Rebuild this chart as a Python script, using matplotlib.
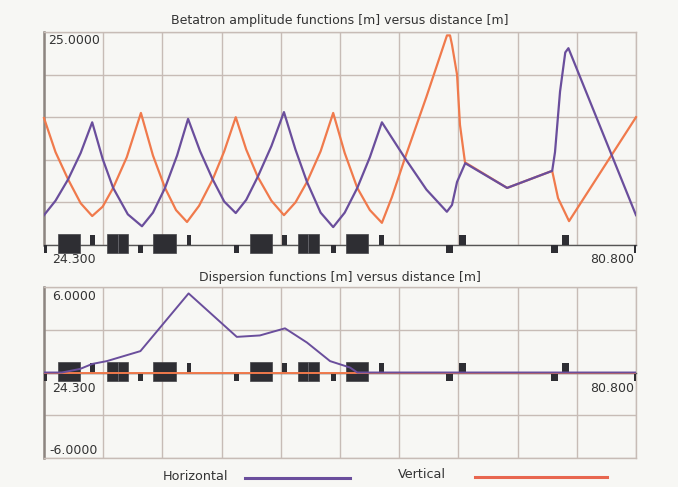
import numpy as np
import matplotlib
matplotlib.use("Agg")
import matplotlib.pyplot as plt
from matplotlib.patches import Rectangle

# lattice range and grid
s_min, s_max = 24.3, 80.8
n_xdiv = 10

# betatron functions
s_bx = [24.3, 25.4, 26.6, 27.8, 28.9, 29.9, 30.9, 32.3, 33.65, 34.7, 35.85, 37.0, 38.05,
        39.2, 40.4, 41.5, 42.6, 43.6, 44.7, 46.0, 47.2, 48.3, 49.4, 50.7, 51.9,
        53.0, 54.2, 55.4, 56.55, 58.75, 60.8, 62.75, 63.24, 63.72, 64.5, 68.5, 72.8,
        73.07, 73.55, 74.05, 74.35, 80.8]
beta_x = [3.5, 5.2, 7.7, 10.8, 14.4, 10.1, 6.7, 3.6, 2.2, 3.8, 6.7, 10.5, 14.8,
          11.0, 7.7, 5.1, 3.75, 5.3, 8.0, 11.6, 15.6, 11.2, 7.4, 3.8, 2.1,
          3.8, 6.7, 10.3, 14.4, 10.2, 6.5, 3.9, 4.7, 7.4, 9.6, 6.7, 8.7,
          10.9, 18.0, 22.6, 23.1, 3.5]
s_by = [24.3, 25.4, 26.6, 27.8, 28.9, 29.9, 30.9, 32.2, 33.55, 34.7, 35.85, 36.9, 37.95,
        39.1, 40.4, 41.5, 42.6, 43.6, 44.7, 46.0, 47.2, 48.3, 49.4, 50.7, 51.9,
        53.0, 54.2, 55.4, 56.55, 57.5, 58.75, 60.8, 62.76, 63.05, 63.24, 63.72, 64.0,
        64.48, 68.5, 72.8, 73.36, 74.41, 80.8]
beta_y = [14.9, 10.9, 7.7, 4.9, 3.4, 4.5, 6.7, 10.3, 15.5, 10.5, 6.7, 4.1, 2.7,
          4.6, 7.7, 11.0, 15.0, 11.2, 8.0, 5.2, 3.5, 5.0, 7.4, 11.0, 15.5,
          10.8, 6.7, 4.1, 2.6, 5.6, 10.2, 17.4, 24.6, 24.6, 23.5, 20.0, 14.1,
          9.7, 6.7, 8.7, 5.5, 2.8, 15.0]

# dispersion functions
s_dx = [24.3, 26.0, 27.74, 28.9, 30.3, 33.5, 38.1, 42.7, 44.9, 47.3, 49.4, 51.6, 53.5, 54.2, 80.8]
disp_x = [0, 0, 0.25, 0.6, 0.8, 1.5, 5.55, 2.5, 2.6, 3.1, 2.1, 0.8, 0.35, 0, 0]
s_dy = [24.3, 80.8]
disp_y = [0, 0]

# magnets: dipoles (big blocks), focusing quads (above), defocusing quads (below)
dip_start = [25.64, 30.31, 34.70, 43.96, 48.54, 53.12]
dip_end = [27.74, 32.32, 36.90, 46.06, 50.55, 55.22]
dip_split = [31.36, 49.50]
qf_start = [28.69, 37.95, 47.01, 56.27, 63.91, 73.74]
qf_end = [29.17, 38.33, 47.49, 56.75, 64.58, 74.41]
qd_start = [33.27, 42.43, 51.69, 62.67, 72.69]
qd_end = [33.75, 42.91, 52.17, 63.34, 73.36]

c_h = "#6a4e9c"
c_v = "#f07a4c"
c_leg_v = "#e8664f"
c_grid = "#c7bcb6"
c_axis = "#8d8580"
c_mag = "#2e2e33"
c_text = "#333333"
bg = "#f7f7f4"

plt.rcParams['font.family'] = ['DejaVu Sans']

fig = plt.figure(figsize=(6.78, 4.87), dpi=100, facecolor=bg)
ax1 = fig.add_axes([44/678, 1-245/487, 592/678, 213/487], facecolor=bg)
ax2 = fig.add_axes([44/678, 1-458/487, 592/678, 171/487], facecolor=bg)


def setup(ax, ylo, yhi, ystep):
    ax.set_xlim(s_min, s_max)
    ax.set_ylim(ylo, yhi)
    ax.set_xticks(np.linspace(s_min, s_max, n_xdiv + 1))
    ax.set_yticks(np.arange(ylo, yhi + 0.01, ystep))
    ax.tick_params(length=0, labelbottom=False, labelleft=False)
    ax.grid(True, color=c_grid, lw=1.0)
    ax.set_axisbelow(True)
    for side in ["top", "right", "bottom"]:
        ax.spines[side].set_color(c_grid)
        ax.spines[side].set_linewidth(1.0)
    ax.spines["left"].set_color(c_axis)
    ax.spines["left"].set_linewidth(1.8)


def draw_lattice(ax, px_per_unit):
    up_big, dn_big = 10.7 / px_per_unit, 8.3 / px_per_unit
    up_q, dn_q = 10 / px_per_unit, 8 / px_per_unit
    ax.plot([s_min, s_max], [0, 0], color="#555555", lw=1.0, zorder=3, clip_on=False)
    for a, b in zip(dip_start, dip_end):
        ax.add_patch(Rectangle((a, -dn_big), b - a, up_big + dn_big, facecolor=c_mag,
                               edgecolor="#444448", lw=0.5, zorder=4, clip_on=False))
    for x in dip_split:
        ax.plot([x, x], [-dn_big, up_big], color="#6a6a70", lw=0.6, zorder=5, clip_on=False)
    for a, b in zip(qf_start, qf_end):
        ax.add_patch(Rectangle((a, 0), b - a, up_q, facecolor=c_mag, lw=0,
                               zorder=4, clip_on=False))
    for a, b in zip(qd_start, qd_end):
        ax.add_patch(Rectangle((a, -dn_q), b - a, dn_q, facecolor=c_mag, lw=0,
                               zorder=4, clip_on=False))
    w = 2.5 / (592 / (s_max - s_min))
    for x in [s_min, s_max - w]:
        ax.add_patch(Rectangle((x, -dn_q), w, dn_q, facecolor=c_mag, lw=0,
                               zorder=4, clip_on=False))


fs_title = 9.0
fs_num = 9.0

# top panel: betatron functions
setup(ax1, 0, 25, 5)
ax1.spines["bottom"].set_visible(False)
ax1.plot(s_by, beta_y, color=c_v, lw=1.6, zorder=6, clip_on=False)
ax1.plot(s_bx, beta_x, color=c_h, lw=1.6, zorder=7)
draw_lattice(ax1, 213 / 25)
ax1.set_title("Betatron amplitude functions [m] versus distance [m]",
              fontsize=fs_title, color=c_text, pad=6)
ax1.annotate("25.0000", xy=(s_min, 25), xytext=(4, -2), textcoords="offset pixels",
             fontsize=fs_num, color=c_text, va="top", ha="left")
ax1.annotate("24.300", xy=(s_min, 0), xytext=(8, -8), textcoords="offset pixels",
             fontsize=fs_num, color=c_text, va="top", ha="left", annotation_clip=False)
ax1.annotate("80.800", xy=(s_max, 0), xytext=(-2, -8), textcoords="offset pixels",
             fontsize=fs_num, color=c_text, va="top", ha="right", annotation_clip=False)

# bottom panel: dispersion functions
setup(ax2, -6, 6, 3)
ax2.plot(s_dy, disp_y, color=c_v, lw=1.4, zorder=6)
ax2.plot(s_dx, disp_x, color=c_h, lw=1.4, zorder=7)
draw_lattice(ax2, 171 / 12)
ax2.set_title("Dispersion functions [m] versus distance [m]",
              fontsize=fs_title, color=c_text, pad=4)
ax2.annotate("6.0000", xy=(s_min, 6), xytext=(8, -3), textcoords="offset pixels",
             fontsize=fs_num, color=c_text, va="top", ha="left")
ax2.annotate("-6.0000", xy=(s_min, -6), xytext=(5, 1), textcoords="offset pixels",
             fontsize=fs_num, color=c_text, va="bottom", ha="left")
ax2.annotate("24.300", xy=(s_min, 0), xytext=(8, -10), textcoords="offset pixels",
             fontsize=fs_num, color=c_text, va="top", ha="left", zorder=8)
ax2.annotate("80.800", xy=(s_max, 0), xytext=(-2, -10), textcoords="offset pixels",
             fontsize=fs_num, color=c_text, va="top", ha="right", zorder=8)

# legend drawn along the bottom
fig.text(163/678, 1-476/487, "Horizontal", fontsize=9.2, color=c_text, va="center", ha="left")
fig.add_artist(plt.Line2D([245/678, 350/678], [1-478/487, 1-478/487], color=c_h, lw=2.2))
fig.text(398/678, 1-475/487, "Vertical", fontsize=9.2, color=c_text, va="center", ha="left")
fig.add_artist(plt.Line2D([475/678, 607/678], [1-477/487, 1-477/487], color=c_leg_v, lw=2.2))

fig.savefig("out.png", dpi=100, facecolor=bg)
